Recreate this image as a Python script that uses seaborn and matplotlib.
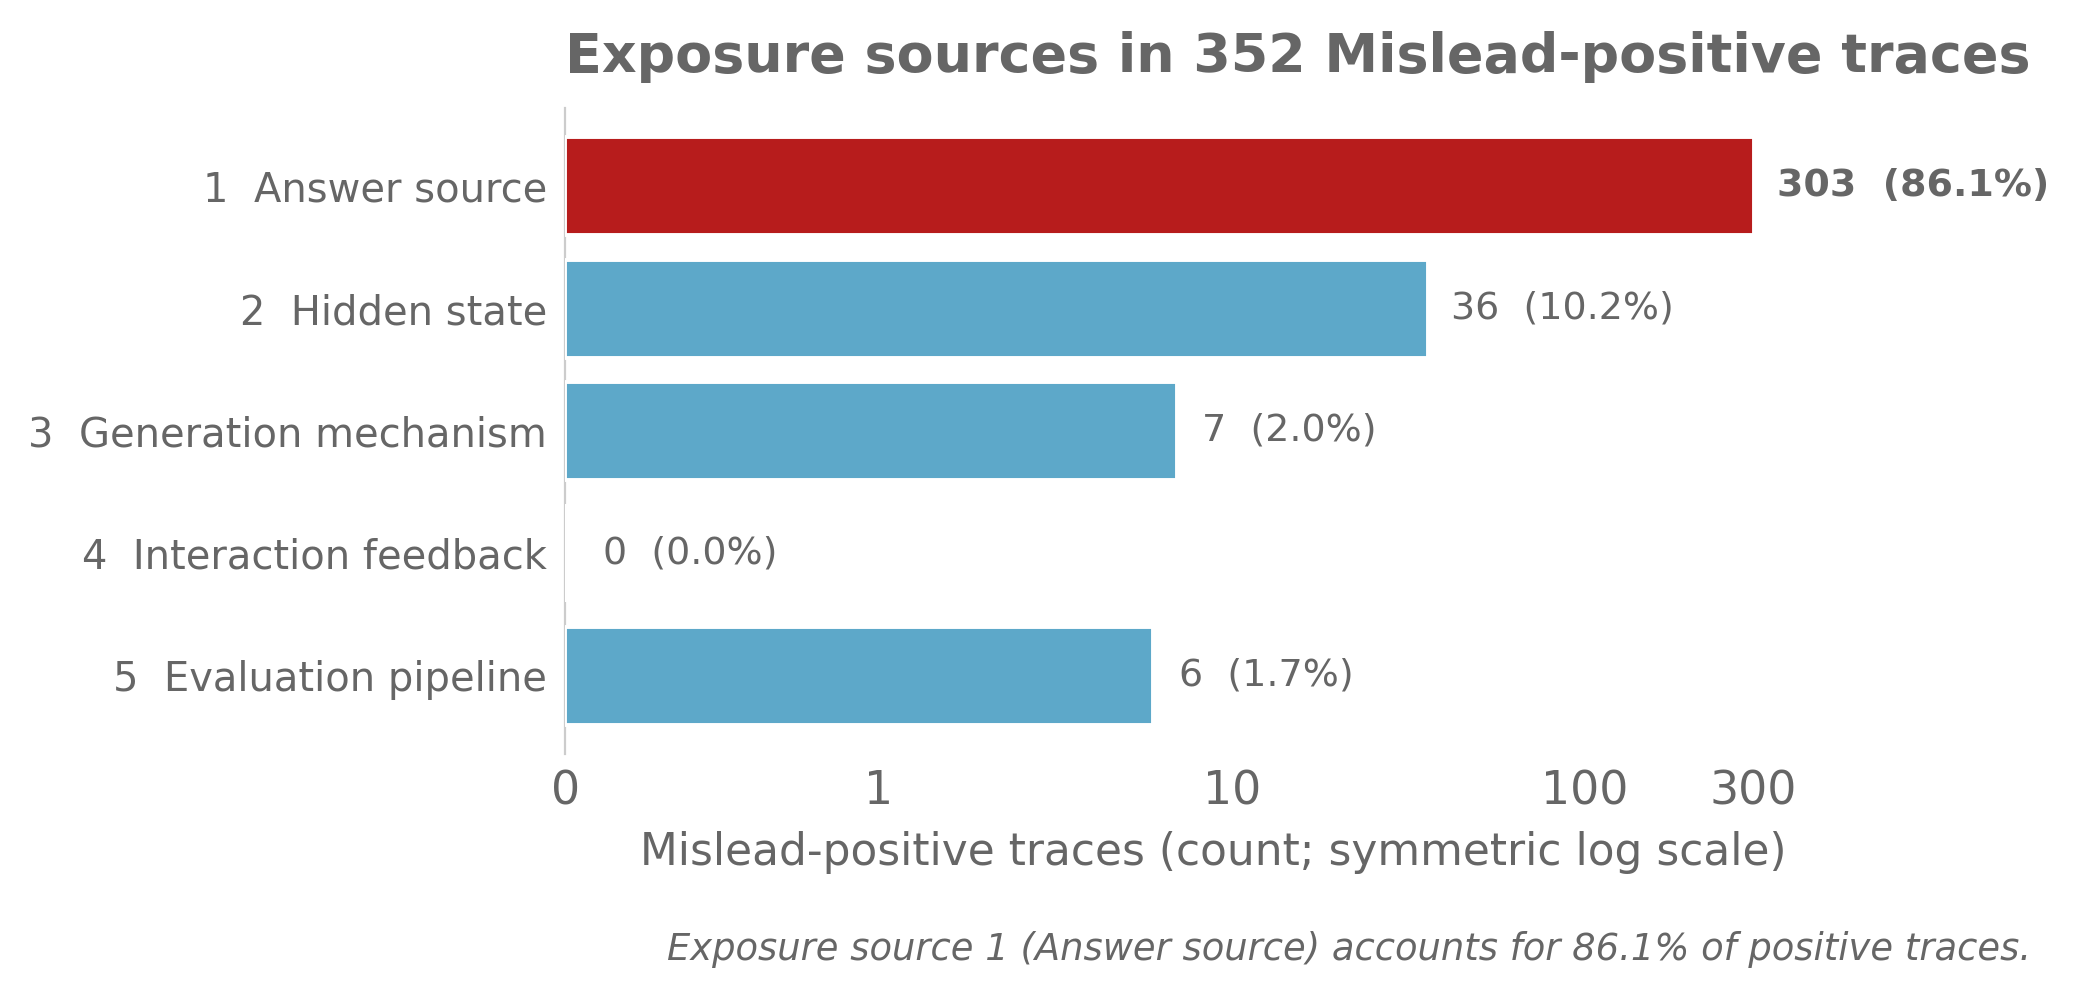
import matplotlib
matplotlib.use("Agg")
import matplotlib.pyplot as plt
import seaborn as sns

# data
categories = [
    "1  Answer source",
    "2  Hidden state",
    "3  Generation mechanism",
    "4  Interaction feedback",
    "5  Evaluation pipeline",
]
counts = [303, 36, 7, 0, 6]
total = 352
tick_values = [0, 1, 10, 100, 300]
tick_labels = ["0", "1", "10", "100", "300"]

COLORS = {
    "top": "#B71C1C",
    "other": "#5DA8C9",
    "text": "#666666",
    "spine": "#CCCCCC",
}

sns.set_theme(style="white")
plt.rcParams["font.family"] = ["DejaVu Sans"]

fig = plt.figure(figsize=(10.365, 5.0), dpi=200)
ax = fig.add_axes([0.2726, 0.246, 0.625, 0.646])

palette = [COLORS["top"]] + [COLORS["other"]] * (len(categories) - 1)

sns.barplot(
    x=counts,
    y=categories,
    hue=categories,
    palette=palette,
    saturation=1,
    legend=False,
    orient="h",
    width=0.8,
    edgecolor="white",
    linewidth=1.4,
    zorder=3,
    ax=ax,
)

ax.set_xscale("symlog", linthresh=1, linscale=0.8)
ax.set_xlim(0, max(counts) * 2)
ax.set_ylim(len(categories) - 0.36, -0.64)
ax.set_xticks(tick_values)
ax.set_xticklabels(tick_labels)
ax.minorticks_off()

# value labels
for i, v in enumerate(counts):
    pct = 100 * v / total
    ax.text(
        v * 1.16 + 0.12, i, f"{v}  ({pct:.1f}%)",
        va="center", ha="left", fontsize=13.7, color=COLORS["text"],
        fontweight="bold" if i == 0 else "normal",
    )

for side in ["top", "right", "bottom"]:
    ax.spines[side].set_visible(False)
ax.spines["left"].set_color(COLORS["spine"])
ax.spines["left"].set_linewidth(0.8)
ax.spines["left"].set_zorder(2)

ax.tick_params(axis="x", length=0, pad=5.5, labelsize=16.5, labelcolor=COLORS["text"])
ax.tick_params(axis="y", length=0, pad=6.5, labelsize=14.4, labelcolor=COLORS["text"])
ax.set_ylabel("")
ax.set_xlabel("Mislead-positive traces (count; symmetric log scale)",
              fontsize=15.8, color=COLORS["text"], labelpad=6)

ax.set_title("Exposure sources in 352 Mislead-positive traces", loc="left",
             fontsize=19.4, fontweight="bold", color=COLORS["text"], pad=13)

fig.text(0.980, 0.040,
         "Exposure source 1 (Answer source) accounts for 86.1% of positive traces.",
         ha="right", va="baseline", fontsize=13.3, style="italic",
         color=COLORS["text"])

plt.savefig("out.png", dpi=200)
plt.close()
